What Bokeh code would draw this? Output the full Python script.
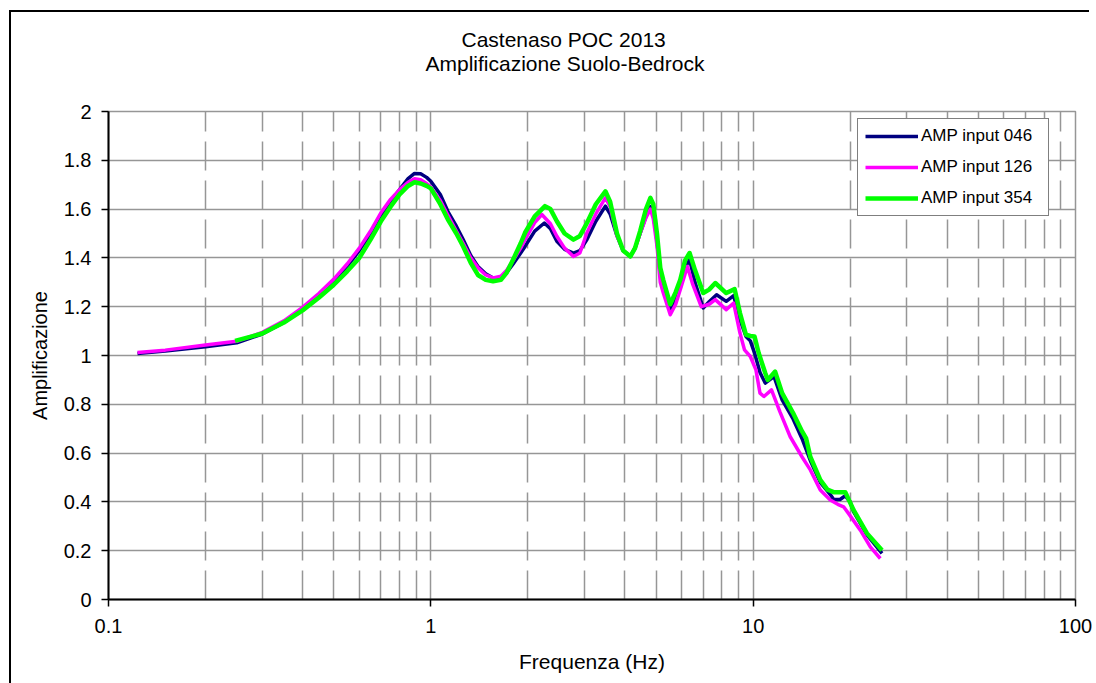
from bokeh.plotting import figure
from bokeh.models import Range1d, FixedTicker, Legend, LegendItem, Title, InlineStyleSheet
from bokeh.embed import file_html
from bokeh.resources import INLINE

# ---------------- data ----------------
title_lines = ["Castenaso POC 2013", "Amplificazione Suolo-Bedrock"]
x_label = "Frequenza (Hz)"
y_label = "Amplificazione"

x_major = [0.1, 1, 10, 100]
x_major_labels = ["0.1", "1", "10", "100"]
x_minor = [0.2, 0.3, 0.4, 0.5, 0.6, 0.7, 0.8, 0.9,
           2, 3, 4, 5, 6, 7, 8, 9,
           20, 30, 40, 50, 60, 70, 80, 90]
y_ticks = [0, 0.2, 0.4, 0.6, 0.8, 1, 1.2, 1.4, 1.6, 1.8, 2]
y_tick_labels = ["0", "0.2", "0.4", "0.6", "0.8", "1", "1.2", "1.4", "1.6", "1.8", "2"]

series_names = ["AMP input 046", "AMP input 126", "AMP input 354"]

f_046 = [0.123, 0.15, 0.2, 0.25, 0.3, 0.35, 0.4, 0.45, 0.5, 0.55, 0.6, 0.65, 0.7, 0.75, 0.8, 0.85,
         0.89, 0.93, 0.97, 1.0, 1.07, 1.13, 1.2, 1.26, 1.33, 1.4, 1.48, 1.56, 1.65, 1.72, 1.8, 1.9,
         1.96, 2.1, 2.25, 2.35, 2.46, 2.6, 2.77, 2.9, 3.05, 3.25, 3.48, 3.6, 3.78, 3.95, 4.16, 4.3,
         4.46, 4.65, 4.8, 4.9, 5.03, 5.15, 5.26, 5.53, 5.75, 5.94, 6.15, 6.35, 6.6, 7.0, 7.3, 7.7,
         8.25, 8.7, 9.1, 9.5, 9.8, 10.1, 10.5, 10.9, 11.6, 12.3, 13.3, 14.17, 15.04, 16.15, 17.35,
         17.77, 18.6, 19.31, 20.0, 20.48, 22.55, 25.1]
a_046 = [1.008, 1.018, 1.036, 1.052, 1.088, 1.135, 1.188, 1.245, 1.30, 1.365, 1.43, 1.50, 1.57, 1.63, 1.68, 1.725,
         1.746, 1.745, 1.73, 1.714, 1.66, 1.59, 1.53, 1.475, 1.41, 1.365, 1.335, 1.318, 1.32, 1.34, 1.375, 1.42,
         1.447, 1.51, 1.543, 1.52, 1.468, 1.435, 1.42, 1.43, 1.475, 1.55, 1.612, 1.58, 1.49, 1.43, 1.406, 1.44,
         1.50, 1.57, 1.61, 1.58, 1.47, 1.33, 1.28, 1.19, 1.23, 1.29, 1.36, 1.393, 1.30, 1.195, 1.22, 1.249,
         1.222, 1.245, 1.147, 1.078, 1.06, 1.01, 0.93, 0.887, 0.914, 0.818, 0.74, 0.66, 0.57, 0.48, 0.43,
         0.41, 0.41, 0.425, 0.40, 0.36, 0.265, 0.189]

f_126 = [0.123, 0.15, 0.2, 0.25, 0.3, 0.35, 0.4, 0.45, 0.5, 0.55, 0.6, 0.65, 0.7, 0.75, 0.8, 0.85,
         0.89, 0.93, 0.97, 1.0, 1.07, 1.13, 1.2, 1.26, 1.33, 1.4, 1.48, 1.56, 1.65, 1.72, 1.8, 1.9,
         1.96, 2.1, 2.21, 2.35, 2.46, 2.6, 2.77, 2.9, 3.05, 3.25, 3.48, 3.6, 3.78, 3.95, 4.16, 4.3,
         4.46, 4.65, 4.8, 4.9, 5.03, 5.15, 5.26, 5.53, 5.75, 5.94, 6.25, 6.5, 6.9, 7.3, 7.63,
         8.25, 8.7, 9.1, 9.4, 9.8, 10.2, 10.5, 10.8, 11.4, 12.1, 13.03, 14.17, 15.04, 16.15, 17.35,
         18.3, 19.08, 19.73, 21.5, 23.09, 24.8]
a_126 = [1.012, 1.022, 1.043, 1.058, 1.095, 1.142, 1.197, 1.255, 1.313, 1.375, 1.44, 1.51, 1.585, 1.64, 1.68, 1.71,
         1.724, 1.72, 1.705, 1.69, 1.635, 1.575, 1.51, 1.46, 1.40, 1.36, 1.33, 1.318, 1.325, 1.35, 1.39, 1.44,
         1.475, 1.545, 1.578, 1.54, 1.489, 1.44, 1.406, 1.42, 1.503, 1.58, 1.646, 1.61, 1.49, 1.43, 1.406, 1.44,
         1.50, 1.565, 1.60, 1.56, 1.45, 1.30, 1.257, 1.167, 1.21, 1.27, 1.365, 1.29, 1.20, 1.21, 1.229,
         1.188, 1.215, 1.092, 1.023, 0.996, 0.941, 0.846, 0.832, 0.859, 0.77, 0.667, 0.585, 0.531, 0.449, 0.408,
         0.39, 0.38, 0.354, 0.284, 0.216, 0.168]

f_354 = [0.247, 0.3, 0.35, 0.4, 0.45, 0.5, 0.55, 0.6, 0.65, 0.7, 0.75, 0.8, 0.85,
         0.89, 0.93, 0.97, 1.0, 1.07, 1.13, 1.2, 1.26, 1.33, 1.4, 1.48, 1.56, 1.65, 1.72, 1.8, 1.9,
         1.96, 2.1, 2.26, 2.35, 2.46, 2.6, 2.77, 2.9, 3.05, 3.25, 3.48, 3.6, 3.78, 3.95, 4.16, 4.3,
         4.46, 4.65, 4.8, 4.9, 5.03, 5.15, 5.26, 5.53, 5.75, 5.94, 6.15, 6.35, 6.6, 7.0, 7.3, 7.63,
         8.25, 8.76, 9.1, 9.5, 9.8, 10.1, 10.4, 10.9, 11.1, 11.7, 12.3, 13.3, 14.17, 14.6, 15.04, 16.15,
         17.0, 17.77, 19.31, 20.48, 22.55, 25.1]
a_354 = [1.06, 1.09, 1.135, 1.185, 1.238, 1.29, 1.345, 1.40, 1.475, 1.55, 1.61, 1.66, 1.695,
         1.71, 1.705, 1.695, 1.685, 1.62, 1.557, 1.50, 1.447, 1.38, 1.33, 1.31, 1.304, 1.31, 1.34, 1.393, 1.46,
         1.503, 1.57, 1.612, 1.60, 1.55, 1.50, 1.475, 1.49, 1.543, 1.62, 1.673, 1.63, 1.50, 1.43, 1.406, 1.44,
         1.51, 1.60, 1.646, 1.62, 1.50, 1.36, 1.31, 1.21, 1.26, 1.31, 1.39, 1.42, 1.35, 1.256, 1.27, 1.297,
         1.256, 1.272, 1.174, 1.085, 1.08, 1.078, 1.01, 0.928, 0.90, 0.934, 0.846, 0.764, 0.69, 0.66, 0.585, 0.49,
         0.45, 0.44, 0.44, 0.367, 0.271, 0.202]

colors = ["#000080", "#FF00FF", "#00FF00"]
widths = [3.5, 3.5, 4.5]

FONT = "Liberation Sans"

border_css = InlineStyleSheet(css="""
:host { position: relative; }
:host::after {
  content: "";
  position: absolute;
  left: 9px; top: 10px; width: 1080px; height: 673px;
  box-sizing: border-box;
  border-left: 2px solid black;
  border-top: 2px solid black;
  border-right: none;
  border-bottom: none;
  pointer-events: none;
}
""")

# ---------------- figure ----------------
p = figure(width=1096, height=683, x_axis_type="log",
           x_range=Range1d(0.1, 100), y_range=Range1d(0, 2),
           output_backend="svg", toolbar_location=None,
           min_border_left=108, min_border_right=21, min_border_top=111, min_border_bottom=84,
           background_fill_color="white", border_fill_color="white",
           stylesheets=[border_css])

p.outline_line_color = "#969696"
p.outline_line_width = 1.5

# titles (stacked above the frame; second line nearest the frame)
t2 = Title(text=title_lines[1], align="left", offset=317, standoff=74,
           text_font=FONT, text_font_size="21px", text_font_style="normal", text_color="black")
t1 = Title(text=title_lines[0], align="left", offset=353, standoff=-76,
           text_font=FONT, text_font_size="21px", text_font_style="normal", text_color="black")
p.add_layout(t2, "above")
p.add_layout(t1, "above")

# axes
p.xaxis.ticker = FixedTicker(ticks=x_major, minor_ticks=x_minor)
p.xaxis.major_label_overrides = {v: s for v, s in zip(x_major, x_major_labels)}
p.yaxis.ticker = FixedTicker(ticks=y_ticks)
p.yaxis.major_label_overrides = {v: s for v, s in zip(y_ticks, y_tick_labels)}

for ax in (p.xaxis[0], p.yaxis[0]):
    ax.axis_line_color = "black"
    ax.axis_line_width = 2
    ax.major_tick_line_color = "black"
    ax.major_tick_line_width = 1.5
    ax.major_tick_out = 7
    ax.major_tick_in = 0
    ax.minor_tick_line_color = None
    ax.major_label_text_font = FONT
    ax.major_label_text_font_size = "20px"
    ax.major_label_text_color = "black"
    ax.axis_label_text_font = FONT
    ax.axis_label_text_font_style = "normal"
    ax.axis_label_text_color = "black"

p.xaxis.axis_label = x_label
p.yaxis.axis_label = y_label
p.xaxis.axis_label_text_font_size = "21px"
p.yaxis.axis_label_text_font_size = "20px"
p.xaxis.major_label_standoff = 12
p.yaxis.major_label_standoff = 10
p.xaxis.axis_label_standoff = 14
p.yaxis.axis_label_standoff = 10

# grids
p.xgrid.grid_line_color = "#969696"
p.xgrid.grid_line_width = 1.5
p.xgrid.grid_line_dash = "29 10"
p.xgrid.minor_grid_line_color = "#969696"
p.xgrid.minor_grid_line_width = 1.5
p.xgrid.minor_grid_line_dash = "29 10"
p.ygrid.grid_line_color = "#969696"
p.ygrid.grid_line_width = 1.3

# series
freqs = [f_046, f_126, f_354]
amps = [a_046, a_126, a_354]
renderers = []
for f, a, c, w in zip(freqs, amps, colors, widths):
    renderers.append(p.line(f, a, line_color=c, line_width=w, line_join="round"))

legend = Legend(items=[LegendItem(label=n, renderers=[r]) for n, r in zip(series_names, renderers)],
                location=(749, 383))
legend.border_line_color = "black"
legend.border_line_width = 1
legend.background_fill_color = "white"
legend.background_fill_alpha = 1
legend.label_text_font = FONT
legend.label_text_font_size = "17px"
legend.label_text_color = "black"
legend.glyph_width = 53
legend.glyph_height = 20
legend.label_height = 20
legend.label_width = 120
legend.label_standoff = 3
legend.spacing = 11
legend.padding = 7
legend.margin = 0
p.add_layout(legend, "center")

open("out.html", "w").write(file_html(p, INLINE))
